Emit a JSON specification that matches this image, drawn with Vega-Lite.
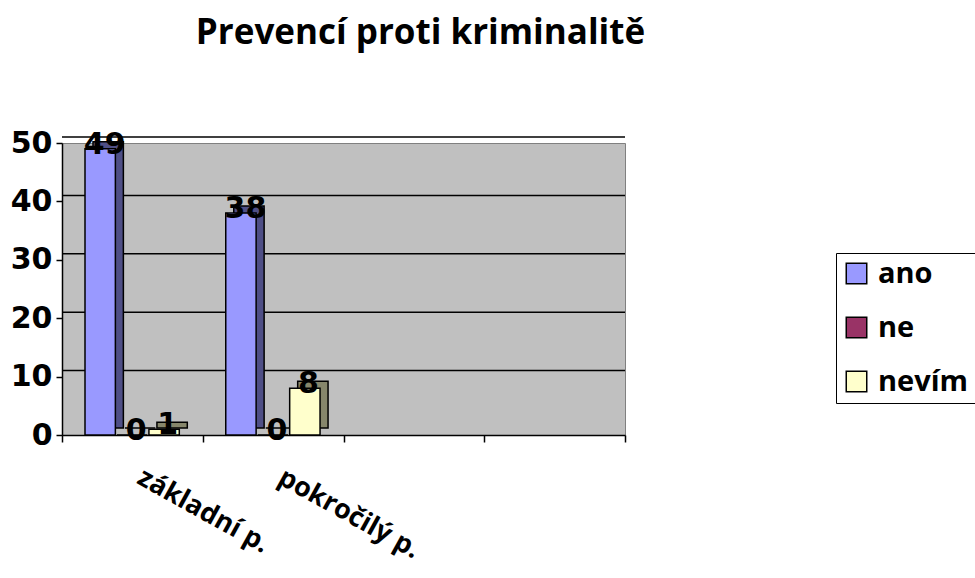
{
  "$schema": "https://vega.github.io/schema/vega-lite/v6.json",
  "width": 563,
  "height": 292,
  "autosize": {"type": "none"},
  "padding": {"left": 62, "top": 143, "right": 350, "bottom": 143},
  "background": "white",
  "title": {
    "text": "Prevencí proti kriminalitě",
    "anchor": "middle",
    "frame": "group",
    "dx": 77,
    "offset": 77,
    "font": "Open Sans",
    "fontSize": 35,
    "fontWeight": "bold",
    "color": "black"
  },
  "config": {
    "view": {"fill": "#C0C0C0", "stroke": "#808080", "strokeWidth": 1},
    "font": "Open Sans",
    "legend": {
      "orient": "none",
      "legendX": 774,
      "legendY": 110,
      "title": null,
      "strokeColor": "black",
      "fillColor": "white",
      "padding": 6,
      "symbolType": "square",
      "symbolSize": 420,
      "symbolStrokeColor": "black",
      "symbolStrokeWidth": 1.5,
      "labelFont": "Open Sans",
      "labelFontSize": 29,
      "labelFontWeight": "bold",
      "labelColor": "black",
      "rowPadding": 24,
      "labelOffset": 7
    }
  },
  "datasets": {
    "bars": [
      {"kurz": "základní p.", "odpoved": "ano", "pocet": 49},
      {"kurz": "základní p.", "odpoved": "ne", "pocet": 0},
      {"kurz": "základní p.", "odpoved": "nevím", "pocet": 1},
      {"kurz": "pokročilý p.", "odpoved": "ano", "pocet": 38},
      {"kurz": "pokročilý p.", "odpoved": "ne", "pocet": 0},
      {"kurz": "pokročilý p.", "odpoved": "nevím", "pocet": 8}
    ],
    "grid": [{"v": 10}, {"v": 20}, {"v": 30}, {"v": 40}, {"v": 50}]
  },
  "resolve": {"scale": {"color": "independent", "xOffset": "independent"}, "legend": {"color": "independent"}},
  "layer": [
    {
      "data": {"name": "grid"},
      "mark": {"type": "rule", "color": "black", "strokeWidth": 1.5, "yOffset": -6},
      "encoding": {
        "y": {"field": "v", "type": "quantitative", "scale": {"domain": [0, 50]}}
      }
    },
    {
      "data": {"name": "bars"},
      "mark": {"type": "bar", "stroke": "black", "strokeWidth": 1.5, "yOffset": -7},
      "encoding": {
        "x": {"field": "kurz", "type": "nominal"},
        "xOffset": {"field": "odpoved", "type": "nominal", "sort": ["ano", "ne", "nevím"], "scale": {"paddingInner": 0.05, "range": [31, 125.3]}},
        "y": {"field": "pocet", "type": "quantitative"},
        "color": {
          "field": "odpoved",
          "type": "nominal",
          "scale": {"domain": ["ano", "ne", "nevím"], "range": ["#4F4F86", "#4D1A33", "#86866B"]},
          "legend": null
        }
      }
    },
    {
      "data": {"name": "bars"},
      "mark": {"type": "bar", "stroke": "black", "strokeWidth": 1.5},
      "encoding": {
        "x": {
          "field": "kurz",
          "type": "nominal",
          "title": null,
          "scale": {"domain": ["základní p.", "pokročilý p.", "c3", "c4"], "paddingInner": 0, "paddingOuter": 0},
          "axis": {
            "labelExpr": "indexof(['c3','c4'], datum.value) >= 0 ? '' : datum.value",
            "labelAngle": 29,
            "labelAlign": "left",
            "labelBaseline": "top",
            "labelPadding": 22,
            "labelOffset": 13,
            "labelFont": "Open Sans",
            "labelFontSize": 27,
            "labelFontWeight": "bold",
            "labelColor": "black",
            "tickBand": "extent",
            "tickSize": 7,
            "tickColor": "black",
            "tickWidth": 1.5,
            "domainColor": "black",
            "domainWidth": 1.5,
            "grid": false
          }
        },
        "xOffset": {"field": "odpoved", "type": "nominal", "sort": ["ano", "ne", "nevím"], "scale": {"paddingInner": 0.05, "range": [23, 117.3]}},
        "y": {
          "field": "pocet",
          "type": "quantitative",
          "title": null,
          "scale": {"domain": [0, 50]},
          "axis": {
            "values": [0, 10, 20, 30, 40, 50],
            "grid": false,
            "labelFont": "DejaVu Sans",
            "labelFontSize": 30,
            "labelFontWeight": "bold",
            "labelColor": "black",
            "labelPadding": 4,
            "tickSize": 6,
            "tickColor": "black",
            "tickWidth": 1.5,
            "domainColor": "black",
            "domainWidth": 1.5
          }
        },
        "color": {
          "field": "odpoved",
          "type": "nominal",
          "scale": {"domain": ["ano", "ne", "nevím"], "range": ["#9999FF", "#993366", "#FFFFCC"]}
        }
      }
    },
    {
      "data": {"name": "bars"},
      "mark": {"type": "text", "font": "DejaVu Sans", "fontSize": 30, "fontWeight": "bold", "color": "black", "baseline": "middle", "dx": 4, "dy": -4},
      "encoding": {
        "x": {"field": "kurz", "type": "nominal"},
        "xOffset": {"field": "odpoved", "type": "nominal", "sort": ["ano", "ne", "nevím"], "scale": {"paddingInner": 0.05, "range": [23, 117.3]}},
        "y": {"field": "pocet", "type": "quantitative"},
        "text": {"field": "pocet", "type": "quantitative"}
      }
    }
  ]
}
